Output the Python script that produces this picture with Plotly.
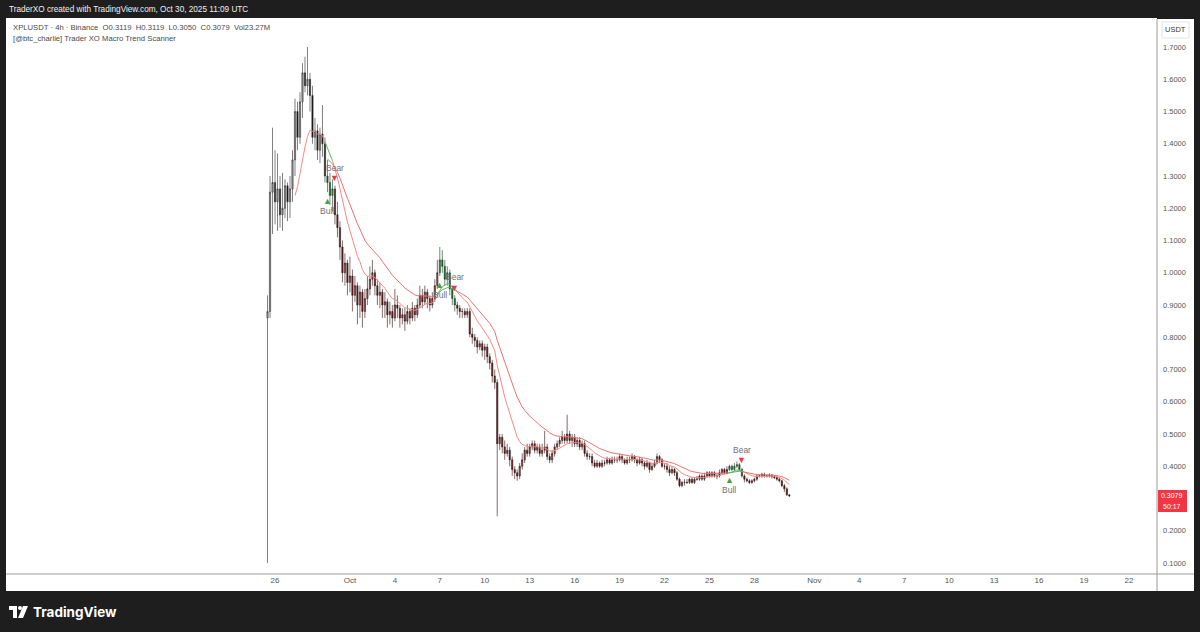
import plotly.graph_objects as go
from datetime import datetime, timedelta

# ---------------- data (XPLUSDT 4h, Binance) ----------------
first_bar = "2025-09-25 12:00"
bar_hours = 4

closes = [
    0.88, 1.25, 1.28, 1.22, 1.26, 1.18, 1.20, 1.27, 1.22, 1.26,
    1.35, 1.50, 1.42, 1.53, 1.62, 1.58, 1.60, 1.55, 1.42, 1.44,
    1.38, 1.43, 1.40, 1.30, 1.28, 1.24, 1.26, 1.18, 1.14, 1.08,
    1.00, 1.03, 0.97, 0.99, 0.93, 0.96, 0.90, 0.94, 0.88, 0.92,
    0.95, 0.98, 1.00, 0.96, 0.93, 0.94, 0.90, 0.91, 0.87, 0.88,
    0.86, 0.90, 0.89, 0.86, 0.87, 0.85, 0.88, 0.86, 0.89, 0.87,
    0.90, 0.93, 0.91, 0.94, 0.92, 0.90, 0.92, 0.96, 1.00, 1.04,
    1.02, 0.98, 1.00, 0.95, 0.92, 0.90, 0.89, 0.88, 0.88, 0.87,
    0.88, 0.81, 0.80, 0.79, 0.77, 0.78, 0.76, 0.77, 0.74, 0.72,
    0.68, 0.66, 0.47, 0.49, 0.46, 0.44, 0.45, 0.42, 0.39, 0.38,
    0.37, 0.40, 0.42, 0.45, 0.44, 0.46, 0.47, 0.45, 0.46, 0.44,
    0.45, 0.46, 0.43, 0.42, 0.44, 0.46, 0.47, 0.48, 0.49, 0.48,
    0.50, 0.48, 0.49, 0.47, 0.48, 0.46, 0.47, 0.44, 0.43, 0.43,
    0.41, 0.40, 0.41, 0.40, 0.41, 0.41, 0.42, 0.41, 0.42, 0.42,
    0.42, 0.43, 0.42, 0.41, 0.42, 0.42, 0.43, 0.42, 0.41, 0.42,
    0.41, 0.40, 0.41, 0.39, 0.40, 0.41, 0.43, 0.42, 0.40, 0.40,
    0.39, 0.38, 0.39, 0.38, 0.36, 0.34, 0.35, 0.35, 0.35, 0.36,
    0.35, 0.36, 0.36, 0.37, 0.36, 0.37, 0.38, 0.37, 0.38, 0.37,
    0.37, 0.38, 0.39, 0.38, 0.39, 0.40, 0.39, 0.40, 0.405, 0.39,
    0.37, 0.36, 0.355, 0.35, 0.355, 0.36, 0.37, 0.37, 0.375, 0.37,
    0.37, 0.372, 0.368, 0.365, 0.36, 0.355, 0.34, 0.33, 0.3119, 0.3079,
]

opens = [
    0.86, 0.88, 1.25, 1.28, 1.22, 1.26, 1.18, 1.20, 1.27, 1.22,
    1.26, 1.35, 1.50, 1.42, 1.53, 1.62, 1.58, 1.60, 1.55, 1.42,
    1.44, 1.38, 1.43, 1.40, 1.30, 1.28, 1.24, 1.26, 1.18, 1.14,
    1.08, 1.00, 1.03, 0.97, 0.99, 0.93, 0.96, 0.90, 0.94, 0.88,
    0.92, 0.95, 0.98, 1.00, 0.96, 0.93, 0.94, 0.90, 0.91, 0.87,
    0.88, 0.86, 0.90, 0.89, 0.86, 0.87, 0.85, 0.88, 0.86, 0.89,
    0.87, 0.90, 0.93, 0.91, 0.94, 0.92, 0.90, 0.92, 0.96, 1.00,
    1.04, 1.02, 0.98, 1.00, 0.95, 0.92, 0.90, 0.89, 0.88, 0.88,
    0.87, 0.88, 0.81, 0.80, 0.79, 0.77, 0.78, 0.76, 0.77, 0.74,
    0.72, 0.68, 0.66, 0.47, 0.49, 0.46, 0.44, 0.45, 0.42, 0.39,
    0.38, 0.37, 0.40, 0.42, 0.45, 0.44, 0.46, 0.47, 0.45, 0.46,
    0.44, 0.45, 0.46, 0.43, 0.42, 0.44, 0.46, 0.47, 0.48, 0.49,
    0.48, 0.50, 0.48, 0.49, 0.47, 0.48, 0.46, 0.47, 0.44, 0.43,
    0.43, 0.41, 0.40, 0.41, 0.40, 0.41, 0.41, 0.42, 0.41, 0.42,
    0.42, 0.42, 0.43, 0.42, 0.41, 0.42, 0.42, 0.43, 0.42, 0.41,
    0.42, 0.41, 0.40, 0.41, 0.39, 0.40, 0.41, 0.43, 0.42, 0.40,
    0.40, 0.39, 0.38, 0.39, 0.38, 0.36, 0.34, 0.35, 0.35, 0.35,
    0.36, 0.35, 0.36, 0.36, 0.37, 0.36, 0.37, 0.38, 0.37, 0.38,
    0.37, 0.37, 0.38, 0.39, 0.38, 0.39, 0.40, 0.39, 0.40, 0.405,
    0.39, 0.37, 0.36, 0.355, 0.35, 0.355, 0.36, 0.37, 0.37, 0.375,
    0.37, 0.37, 0.372, 0.368, 0.365, 0.36, 0.355, 0.34, 0.33, 0.3119,
]

highs = [
    0.93, 1.30, 1.45, 1.38, 1.37, 1.30, 1.31, 1.29, 1.28, 1.30,
    1.38, 1.54, 1.53, 1.56, 1.65, 1.67, 1.70, 1.62, 1.58, 1.48,
    1.46, 1.45, 1.52, 1.42, 1.35, 1.31, 1.29, 1.27, 1.22, 1.16,
    1.10, 1.06, 1.04, 1.05, 1.01, 0.99, 0.97, 0.96, 0.95, 0.95,
    0.99, 1.02, 1.04, 1.01, 0.98, 0.97, 0.95, 0.94, 0.92, 0.91,
    0.90, 0.95, 0.93, 0.90, 0.89, 0.89, 0.90, 0.89, 0.91, 0.90,
    0.92, 0.96, 0.95, 0.96, 0.95, 0.93, 0.94, 0.98, 1.04, 1.08,
    1.07, 1.04, 1.02, 1.01, 0.96, 0.93, 0.91, 0.90, 0.89, 0.89,
    0.89, 0.89, 0.83, 0.81, 0.80, 0.79, 0.79, 0.78, 0.78, 0.75,
    0.73, 0.70, 0.67, 0.50, 0.50, 0.48, 0.47, 0.46, 0.43, 0.40,
    0.39, 0.41, 0.44, 0.46, 0.47, 0.47, 0.48, 0.48, 0.47, 0.47,
    0.47, 0.51, 0.47, 0.44, 0.45, 0.47, 0.48, 0.49, 0.51, 0.50,
    0.56, 0.51, 0.50, 0.50, 0.49, 0.49, 0.48, 0.48, 0.45, 0.44,
    0.44, 0.42, 0.42, 0.415, 0.42, 0.42, 0.43, 0.425, 0.43, 0.43,
    0.43, 0.44, 0.435, 0.425, 0.43, 0.43, 0.44, 0.435, 0.425, 0.43,
    0.425, 0.415, 0.42, 0.415, 0.41, 0.42, 0.44, 0.435, 0.425, 0.41,
    0.41, 0.40, 0.40, 0.395, 0.385, 0.365, 0.355, 0.36, 0.36, 0.365,
    0.365, 0.365, 0.37, 0.375, 0.375, 0.38, 0.385, 0.385, 0.385, 0.385,
    0.38, 0.39, 0.395, 0.395, 0.40, 0.405, 0.405, 0.41, 0.415, 0.41,
    0.395, 0.375, 0.365, 0.36, 0.36, 0.365, 0.375, 0.375, 0.38, 0.38,
    0.375, 0.378, 0.376, 0.372, 0.368, 0.365, 0.358, 0.345, 0.335, 0.3119,
]

lows = [
    0.10, 0.86, 1.12, 1.15, 1.13, 1.14, 1.13, 1.17, 1.16, 1.17,
    1.22, 1.30, 1.38, 1.40, 1.48, 1.56, 1.55, 1.50, 1.40, 1.38,
    1.35, 1.34, 1.36, 1.28, 1.25, 1.21, 1.19, 1.15, 1.11, 1.04,
    0.97, 0.96, 0.93, 0.94, 0.88, 0.91, 0.84, 0.86, 0.83, 0.86,
    0.90, 0.93, 0.96, 0.93, 0.90, 0.89, 0.86, 0.86, 0.83, 0.84,
    0.83, 0.85, 0.86, 0.83, 0.84, 0.82, 0.84, 0.84, 0.85, 0.85,
    0.86, 0.89, 0.89, 0.90, 0.89, 0.88, 0.89, 0.91, 0.95, 0.99,
    1.00, 0.96, 0.96, 0.93, 0.90, 0.88, 0.87, 0.86, 0.86, 0.86,
    0.86, 0.80, 0.78, 0.77, 0.75, 0.76, 0.74, 0.73, 0.72, 0.70,
    0.66, 0.64, 0.245, 0.45, 0.44, 0.42, 0.43, 0.40, 0.37, 0.36,
    0.355, 0.36, 0.39, 0.41, 0.43, 0.43, 0.45, 0.44, 0.44, 0.43,
    0.43, 0.44, 0.42, 0.41, 0.41, 0.43, 0.45, 0.46, 0.47, 0.47,
    0.47, 0.47, 0.46, 0.46, 0.46, 0.45, 0.45, 0.43, 0.42, 0.42,
    0.40, 0.395, 0.395, 0.395, 0.395, 0.40, 0.405, 0.405, 0.405, 0.41,
    0.41, 0.415, 0.41, 0.405, 0.405, 0.41, 0.415, 0.41, 0.40, 0.405,
    0.40, 0.39, 0.395, 0.38, 0.385, 0.395, 0.405, 0.41, 0.395, 0.39,
    0.38, 0.37, 0.375, 0.37, 0.355, 0.335, 0.335, 0.34, 0.345, 0.345,
    0.345, 0.345, 0.355, 0.355, 0.355, 0.355, 0.365, 0.365, 0.365, 0.365,
    0.36, 0.365, 0.375, 0.375, 0.375, 0.385, 0.385, 0.385, 0.395, 0.385,
    0.365, 0.35, 0.35, 0.345, 0.345, 0.35, 0.355, 0.365, 0.365, 0.365,
    0.365, 0.365, 0.362, 0.36, 0.355, 0.35, 0.335, 0.32, 0.308, 0.3050,
]

fast_len = 12
slow_len = 25

sig_dates = ["2025-09-29 12:00", "2025-09-30 00:00", "2025-10-07 00:00",
             "2025-10-08 00:00", "2025-10-26 08:00", "2025-10-27 04:00"]
sig_types = ["Bull", "Bear", "Bull", "Bear", "Bull", "Bear"]

tick_dates = ["2025-09-26", "2025-10-01", "2025-10-04", "2025-10-07", "2025-10-10",
              "2025-10-13", "2025-10-16", "2025-10-19", "2025-10-22", "2025-10-25",
              "2025-10-28", "2025-11-01", "2025-11-04", "2025-11-07", "2025-11-10",
              "2025-11-13", "2025-11-16", "2025-11-19", "2025-11-22"]
tick_text = ["26", "Oct", "4", "7", "10", "13", "16", "19", "22", "25", "28",
             "Nov", "4", "7", "10", "13", "16", "19", "22"]
# 0.3000 is hidden behind the last-price label in the reference
price_ticks = [0.1, 0.2, 0.4, 0.5, 0.6, 0.7, 0.8, 0.9, 1.0,
               1.1, 1.2, 1.3, 1.4, 1.5, 1.6, 1.7]

header_text = "TraderXO created with TradingView.com, Oct 30, 2025 11:09 UTC"
legend1 = "XPLUSDT · 4h · Binance  O0.3119  H0.3119  L0.3050  C0.3079  Vol23.27M"
legend2 = "[@btc_charlie] Trader XO Macro Trend Scanner"
countdown = "50:17"

# ---------------- helpers ----------------
n = len(closes)
t0 = datetime.strptime(first_bar, "%Y-%m-%d %H:%M")
times = [t0 + timedelta(hours=bar_hours * i) for i in range(n)]


def pine_ema(src, length):
    out = [None] * len(src)
    alpha = 2.0 / (length + 1)
    for i in range(len(src)):
        if i == length - 1:
            out[i] = sum(src[:length]) / length
        elif i >= length:
            out[i] = alpha * src[i] + (1 - alpha) * out[i - 1]
    return out


fast = pine_ema(closes, fast_len)
slow = pine_ema(closes, slow_len)
trend = []
for i in range(n):
    if slow[i] is None:
        trend.append("neutral")
    elif fast[i] > slow[i]:
        trend.append("bull")
    else:
        trend.append("bear")

# layout geometry in pixels
W, H = 1200, 632
L_PX, R_PX, T_PX, B_PX = 6, 1157, 18, 574
PW, PH = R_PX - L_PX, B_PX - T_PX
Y_MIN, Y_MAX = 0.066, 1.79


def px(x):
    return (x - L_PX) / PW


def py(y):
    return 1 - (y - T_PX) / PH


fig = go.Figure()

# ---------------- candles ----------------
styles = {
    "neutral": ("#a3a3a3", "#111111", "#2a2a2a"),
    "bear": ("#a05c5c", "#6e2424", "#2e0c0c"),
    "bull": ("#3d9b52", "#1e6b30", "#123d1b"),
}
for key, (inc_fill, dec_fill, edge) in styles.items():
    o = [opens[i] if trend[i] == key else None for i in range(n)]
    h = [highs[i] if trend[i] == key else None for i in range(n)]
    l = [lows[i] if trend[i] == key else None for i in range(n)]
    c = [closes[i] if trend[i] == key else None for i in range(n)]
    fig.add_trace(go.Candlestick(
        x=times, open=o, high=h, low=l, close=c,
        increasing=dict(fillcolor=inc_fill, line=dict(color=edge, width=0.6)),
        decreasing=dict(fillcolor=dec_fill, line=dict(color=edge, width=0.6)),
        whiskerwidth=0, showlegend=False, hoverinfo="skip",
    ))

# ---------------- EMA lines, coloured by trend ----------------
def add_colored_line(vals, red_col, green_col):
    seg_x, seg_y, seg_col = [], [], None
    start = next(i for i, v in enumerate(vals) if v is not None)
    for i in range(start, n - 1):
        col = green_col if trend[i + 1] == "bull" else red_col
        if col != seg_col:
            if seg_x:
                fig.add_trace(go.Scatter(x=seg_x, y=seg_y, mode="lines",
                                         line=dict(color=seg_col, width=1),
                                         showlegend=False, hoverinfo="skip"))
            seg_x, seg_y, seg_col = [times[i]], [vals[i]], col
        seg_x.append(times[i + 1])
        seg_y.append(vals[i + 1])
    if seg_x:
        fig.add_trace(go.Scatter(x=seg_x, y=seg_y, mode="lines",
                                 line=dict(color=seg_col, width=1),
                                 showlegend=False, hoverinfo="skip"))


add_colored_line(fast, "#f58a80", "#5cb85c")
add_colored_line(slow, "#ef7070", "#5cb85c")

# ---------------- signals ----------------
annotations = []
for d, typ in zip(sig_dates, sig_types):
    t = datetime.strptime(d, "%Y-%m-%d %H:%M")
    idx = times.index(t)
    if typ == "Bull":
        annotations.append(dict(x=t, y=lows[idx], xref="x", yref="y", text="▲",
                                showarrow=False, yshift=-8,
                                font=dict(color="#43a047", size=9)))
        annotations.append(dict(x=t, y=lows[idx], xref="x", yref="y", text="Bull",
                                showarrow=False, yshift=-19,
                                font=dict(color="#6f727c", size=8.5, family="Liberation Sans")))
    else:
        annotations.append(dict(x=t, y=highs[idx], xref="x", yref="y", text="▼",
                                showarrow=False, yshift=8,
                                font=dict(color="#f23645", size=9)))
        annotations.append(dict(x=t, y=highs[idx], xref="x", yref="y", text="Bear",
                                showarrow=False, yshift=18,
                                font=dict(color="#6f727c", size=8.5, family="Liberation Sans")))

# last-price label geometry (from the y scale)
last_px = T_PX + (Y_MAX - closes[-1]) / (Y_MAX - Y_MIN) * PH

# ---------------- texts ----------------
annotations += [
    dict(x=px(7), y=py(9), xref="paper", yref="paper", text=header_text,
         showarrow=False, xanchor="left", yanchor="middle",
         font=dict(color="#f0f0f0", size=8.2, family="Liberation Sans")),
    dict(x=px(11), y=py(27), xref="paper", yref="paper", text=legend1,
         showarrow=False, xanchor="left", yanchor="middle",
         font=dict(color="#4a4a4a", size=7.7, family="Liberation Sans")),
    dict(x=px(11), y=py(38), xref="paper", yref="paper", text=legend2,
         showarrow=False, xanchor="left", yanchor="middle",
         font=dict(color="#4a4a4a", size=7.7, family="Liberation Sans")),
    dict(x=px(1175), y=py(30), xref="paper", yref="paper", text="USDT",
         showarrow=False, xanchor="center", yanchor="middle",
         font=dict(color="#333333", size=7.5, family="Liberation Sans")),
    dict(x=px(1172), y=py(last_px), xref="paper", yref="paper",
         text=f"{closes[-1]:.4f}", showarrow=False,
         xanchor="center", yanchor="middle",
         font=dict(color="#ffffff", size=7, family="Liberation Sans")),
    dict(x=px(1172), y=py(last_px + 10.5), xref="paper", yref="paper",
         text=countdown, showarrow=False,
         xanchor="center", yanchor="middle",
         font=dict(color="#ffffff", size=7, family="Liberation Sans")),
    dict(x=px(31), y=py(612), xref="paper", yref="paper", text="<b>TradingView</b>",
         showarrow=False, xanchor="left", yanchor="middle",
         font=dict(color="#ffffff", size=13.5, family="Inter")),
]

# ---------------- shapes ----------------
shapes = [
    dict(type="rect", xref="paper", yref="paper", x0=px(6), x1=px(1194),
         y0=py(591), y1=py(19), fillcolor="#ffffff", line=dict(width=0), layer="below"),
    dict(type="line", xref="paper", yref="paper", x0=px(6), x1=px(1194),
         y0=py(574), y1=py(574), line=dict(color="#9a9a9a", width=1)),
    dict(type="line", xref="paper", yref="paper", x0=px(1157), x1=px(1157),
         y0=py(591), y1=py(19), line=dict(color="#9a9a9a", width=1)),
    dict(type="rect", xref="paper", yref="paper", x0=px(1162), x1=px(1189),
         y0=py(38), y1=py(22), fillcolor="#ffffff", line=dict(color="#e4e4e4", width=1)),
    # last price box
    dict(type="rect", xref="paper", yref="paper", x0=px(1158), x1=px(1187),
         y0=py(last_px + 16), y1=py(last_px - 6), fillcolor="#f23645",
         line=dict(width=0)),
    # TradingView logo
    dict(type="path", xref="paper", yref="paper",
         path=(f"M {px(9)},{py(606)} L {px(17)},{py(606)} L {px(17)},{py(618)} "
               f"L {px(13)},{py(618)} L {px(13)},{py(610)} L {px(9)},{py(610)} Z"),
         fillcolor="#ffffff", line=dict(width=0)),
    dict(type="circle", xref="paper", yref="paper", x0=px(18), x1=px(22),
         y0=py(610), y1=py(606), fillcolor="#ffffff", line=dict(width=0)),
    dict(type="path", xref="paper", yref="paper",
         path=(f"M {px(23)},{py(606)} L {px(28)},{py(606)} L {px(23)},{py(618)} "
               f"L {px(18)},{py(618)} Z"),
         fillcolor="#ffffff", line=dict(width=0)),
]

fig.update_layout(
    width=W, height=H,
    margin=dict(l=L_PX, r=W - R_PX, t=T_PX, b=H - B_PX),
    paper_bgcolor="#1e1e1e",
    plot_bgcolor="#ffffff",
    showlegend=False,
    annotations=annotations,
    shapes=shapes,
    xaxis=dict(
        type="date",
        range=["2025-09-08 01:00", "2025-11-23 21:00"],
        rangeslider=dict(visible=False),
        tickmode="array", tickvals=tick_dates, ticktext=tick_text,
        showgrid=False, zeroline=False, showline=False, ticks="",
        tickfont=dict(color="#555555", size=8, family="Liberation Sans"),
        fixedrange=True,
    ),
    yaxis=dict(
        side="right",
        range=[Y_MIN, Y_MAX],
        tickmode="array", tickvals=price_ticks,
        ticktext=[f"{v:.4f}" for v in price_ticks],
        showgrid=False, zeroline=False, showline=False, ticks="",
        ticklabelstandoff=5,
        tickfont=dict(color="#555555", size=7.5, family="Liberation Sans"),
        fixedrange=True,
    ),
)

fig.write_html(
    "out.html",
    config={"displayModeBar": False},
    post_script="document.body.style.margin='0';document.body.style.background='#1e1e1e';",
)
